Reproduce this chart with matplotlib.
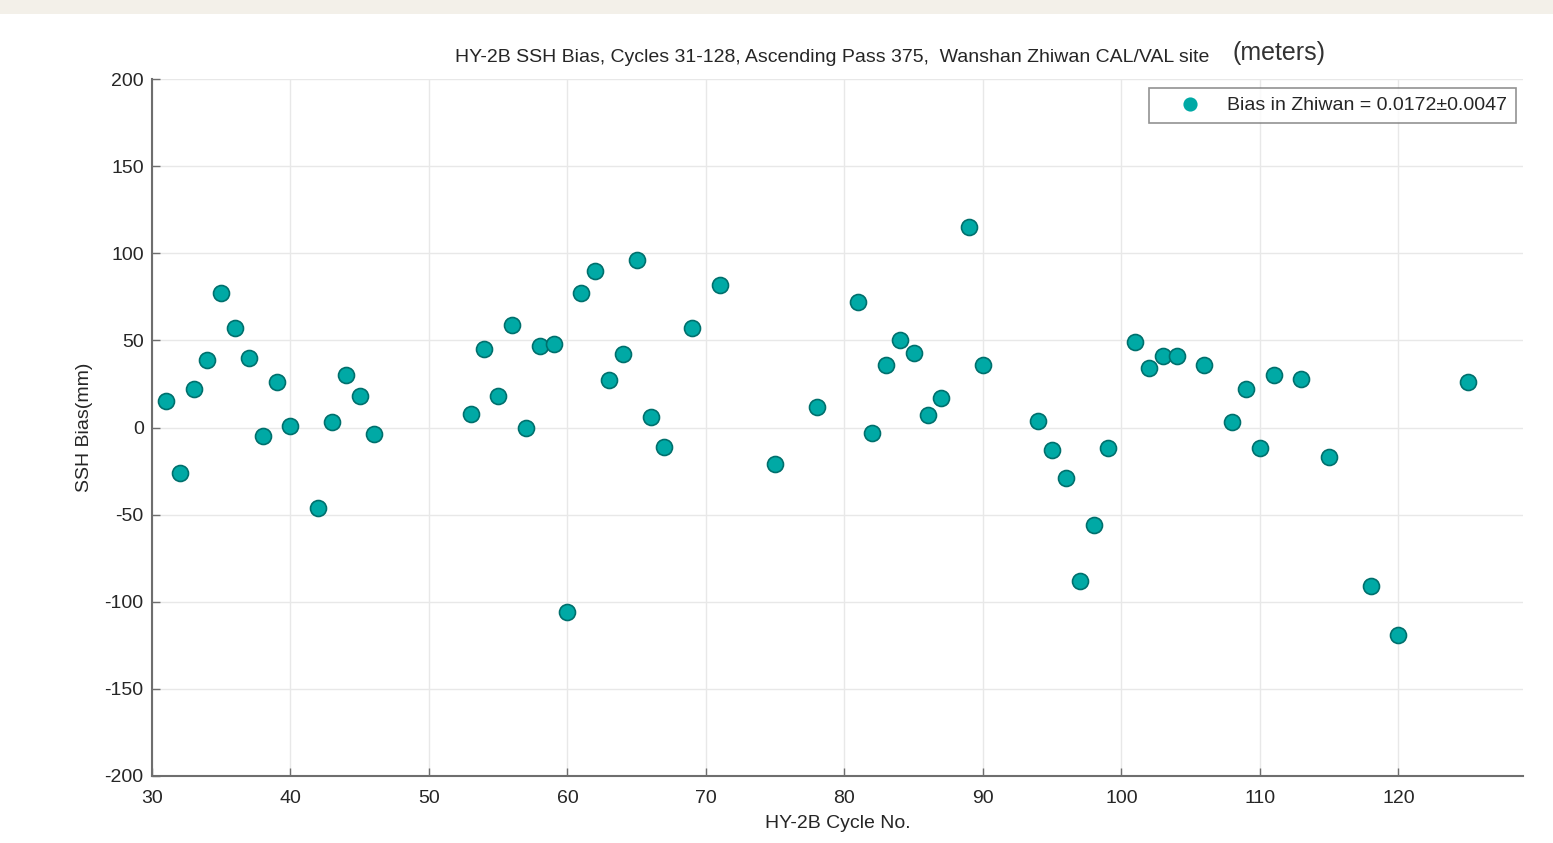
import matplotlib
matplotlib.use('Agg')
import matplotlib.pyplot as plt
from matplotlib.patches import Rectangle

plt.rcParams['font.family'] = ['Liberation Sans', 'DejaVu Sans']
plt.rcParams['axes.unicode_minus'] = False

# HY-2B cycle numbers and SSH bias (mm)
cycles = [31, 32, 33, 34, 35, 36, 37, 38, 39, 40, 42, 43, 44, 45, 46,
          53, 54, 55, 56, 57, 58, 59, 60, 61, 62, 63, 64, 65, 66, 67, 69, 71,
          75, 78, 81, 82, 83, 84, 85, 86, 87, 89, 90,
          94, 95, 96, 97, 98, 99, 101, 102, 103, 104, 106, 108, 109, 110, 111,
          113, 115, 118, 120, 125]
bias = [15, -26, 22, 39, 77, 57, 40, -5, 26, 1, -46, 3, 30, 18, -4,
        8, 45, 18, 59, 0, 47, 48, -106, 77, 90, 27, 42, 96, 6, -11, 57, 82,
        -21, 12, 72, -3, 36, 50, 43, 7, 17, 115, 36,
        4, -13, -29, -88, -56, -12, 49, 34, 41, 41, 36, 3, 22, -12, 30,
        28, -17, -91, -119, 26]

xticks = [30, 40, 50, 60, 70, 80, 90, 100, 110, 120]
yticks = [-200, -150, -100, -50, 0, 50, 100, 150, 200]

fig = plt.figure(figsize=(15.53, 8.43), dpi=100)
fig.patches.append(Rectangle((0, 1 - 14 / 843), 1, 14 / 843, transform=fig.transFigure,
                             facecolor='#f3f0e9', edgecolor='none'))
ax = fig.add_axes([152 / 1553, 1 - 776 / 843, (1523 - 152) / 1553, (776 - 79) / 843])

ax.plot(cycles, bias, 'o', color='#00a9a5', markeredgecolor='#00706d',
        markeredgewidth=1.2, markersize=11.5,
        label='Bias in Zhiwan = 0.0172\u00b10.0047')

ax.set_xlim(30, 129)
ax.set_ylim(-200, 200)
ax.set_xticks(xticks)
ax.set_yticks(yticks)
ax.grid(True, color='#e8e8e8', linewidth=1)
ax.set_axisbelow(True)
for s in ['top', 'right']:
    ax.spines[s].set_visible(False)
for s in ['left', 'bottom']:
    ax.spines[s].set_color('#6e6e6e')
    ax.spines[s].set_linewidth(1.5)
ax.tick_params(direction='in', length=6, width=1, color='#6e6e6e',
               labelsize=14, labelcolor='#262626')
ax.tick_params(axis='x', pad=10)
ax.tick_params(axis='y', pad=6)

ax.set_xlabel('HY-2B Cycle No.', fontsize=14, color='#262626', labelpad=6)
ax.set_ylabel('SSH Bias(mm)', fontsize=14, color='#262626', labelpad=8)

fig.text(455 / 1553, 1 - 57 / 843, 'HY-2B SSH Bias, Cycles 31-128, Ascending Pass 375,  Wanshan Zhiwan CAL/VAL site',
         fontsize=14, color='#262626', va='center', ha='left')
fig.text(1232 / 1553, 1 - 53 / 843, '(meters)', fontsize=18, color='#333333',
         va='center', ha='left')

leg = ax.legend(loc='upper right', bbox_to_anchor=(1516 / 1553, 1 - 88 / 843),
                bbox_transform=fig.transFigure, fontsize=14, frameon=True,
                fancybox=False, edgecolor='#777777', handletextpad=0.2,
                borderpad=0.45, handlelength=3.4, borderaxespad=0)
leg.get_frame().set_linewidth(1.2)
h = leg.legend_handles[0]
h.set_markersize(9)
h.set_markeredgecolor('#00a9a5')
for t in leg.get_texts():
    t.set_color('#262626')

fig.savefig('out.png', dpi=100)
